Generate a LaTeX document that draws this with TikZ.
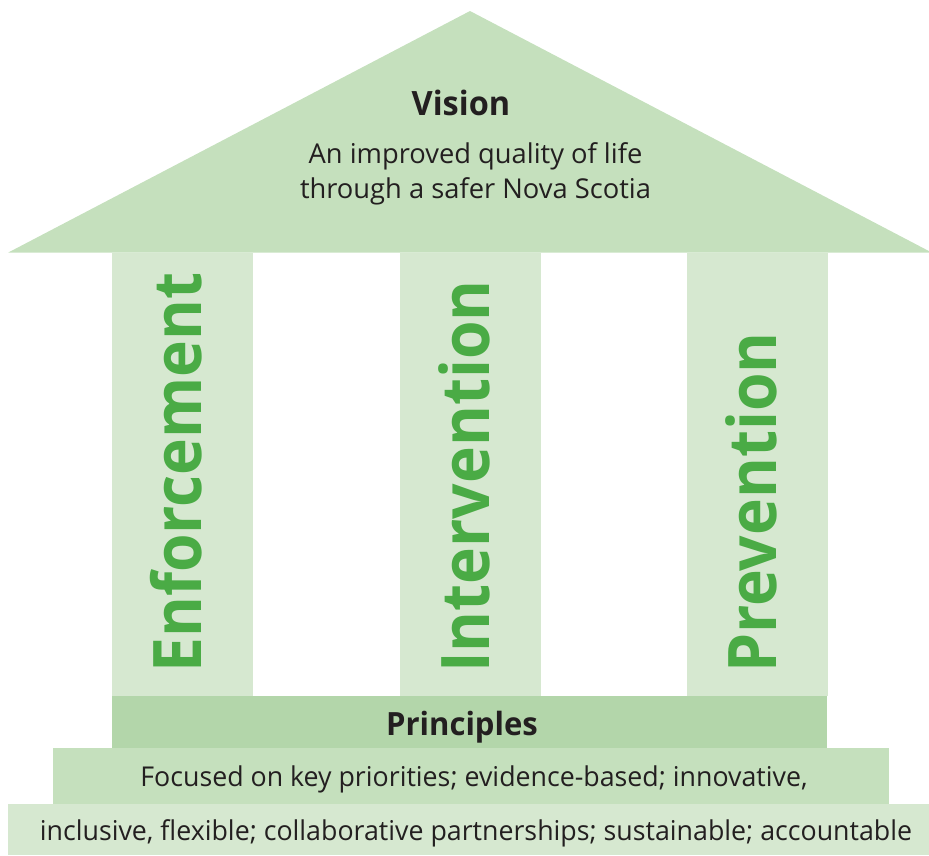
\documentclass[tikz,border=0pt]{standalone}
\usepackage{fontspec}
\setmainfont{Open Sans}
\newfontfamily\bodyfont{Open Sans}
\newfontfamily\basefont[FakeStretch=0.98]{Open Sans}
\newfontfamily\headfont[FakeStretch=0.97]{Open Sans}
\newfontfamily\pillarfont[FakeStretch=0.93]{Open Sans}
\definecolor{roofgreen}{HTML}{C5E0BD}
\definecolor{pillargreen}{HTML}{D6E8D0}
\definecolor{principlegreen}{HTML}{B3D6AA}
\definecolor{textgreen}{HTML}{4AAB45}
\definecolor{textdark}{HTML}{231F20}
\begin{document}
\begin{tikzpicture}[x=1pt,y=-1pt,
  bodytext/.style={inner sep=0pt,text=textdark,font=\bodyfont\fontsize{27.3}{30}\selectfont,anchor=base},
  basetext/.style={inner sep=0pt,text=textdark,font=\basefont\fontsize{27.3}{30}\selectfont,anchor=base},
  boldtext/.style={inner sep=0pt,text=textdark,font=\headfont\bfseries\fontsize{33}{36}\selectfont,anchor=base},
  pillartext/.style={inner sep=0pt,text=textgreen,font=\pillarfont\bfseries\fontsize{67}{70}\selectfont,anchor=base west,rotate=90}]
\useasboundingbox (0,0) rectangle (929,855);
% roof
\fill[roofgreen] (8.3,252.5) -- (470,11) -- (931.7,252.5) -- cycle;
% pillars
\fill[pillargreen] (112,252.5) rectangle (252.5,696);
\fill[pillargreen] (400,252.5) rectangle (540.5,696);
\fill[pillargreen] (687,252.5) rectangle (827.5,696);
% steps
\fill[principlegreen] (112,696) rectangle (827,748);
\fill[roofgreen] (53,748) rectangle (889,804);
\fill[pillargreen] (8,804) rectangle (929,855);
% texts
\node[boldtext,font=\headfont\bfseries\fontsize{33.5}{36}\selectfont] (vision) at (461,115) {Vision};
\node[bodytext] (vis1) at (475.5,163) {An improved quality of life};
\node[bodytext] (vis2) at (475.5,198.5) {through a safer Nova Scotia};
\node[pillartext] (enf) at (201,673) {Enforcement};
\node[pillartext] (int) at (489,673) {Intervention};
\node[pillartext] (pre) at (776.5,673) {Prevention};
\node[boldtext,font=\headfont\bfseries\fontsize{32}{36}\selectfont] (prin) at (462,735) {Principles};
\node[basetext] (p1) at (474,786) {Focused on key priorities; evidence-based; innovative,};
\node[basetext] (p2) at (476,840) {inclusive, flexible; collaborative partnerships; sustainable; accountable};
\end{tikzpicture}
\end{document}
